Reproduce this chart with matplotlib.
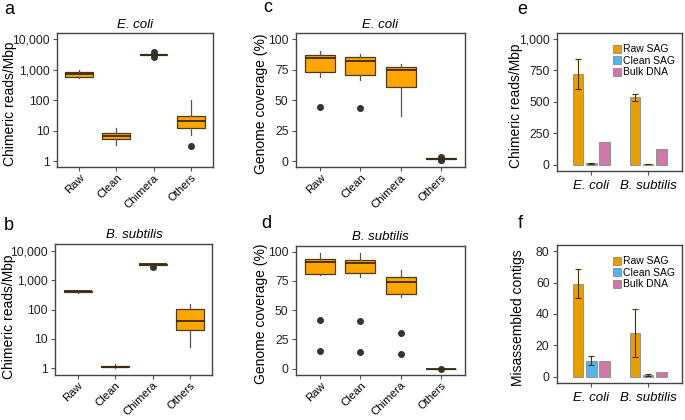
import matplotlib
matplotlib.use("Agg")
import matplotlib.pyplot as plt
from matplotlib.ticker import FixedLocator, FixedFormatter
import numpy as np

plt.rcParams['font.family'] = ['Liberation Sans', 'DejaVu Sans']

# ---------------- data ----------------
box_categories = ["Raw", "Clean", "Chimera", "Others"]

# panel a: E. coli chimeric reads/Mbp (log)
a_whislo = [535, 3.5, 3050, 7.0]
a_q1 = [590, 5.5, 3100, 12.4]
a_med = [720, 6.6, 3150, 20.3]
a_q3 = [860, 8.3, 3200, 29.5]
a_whishi = [980, 12.7, 3250, 100]
a_fliers = [[], [], [3800, 2700], [3.1]]

# panel b: B. subtilis chimeric reads/Mbp (log)
b_whislo = [370, 1.05, 3350, 5.2]
b_q1 = [405, 1.08, 3400, 20.7]
b_med = [415, 1.13, 3450, 41]
b_q3 = [425, 1.18, 3500, 101]
b_whishi = [430, 1.35, 3550, 152]
b_fliers = [[], [], [2830], []]

# panel c: E. coli genome coverage (%)
c_whislo = [68.7, 66.8, 37.0, 1.0]
c_q1 = [72.8, 70.4, 61.1, 1.6]
c_med = [84.8, 82.3, 74.5, 1.9]
c_q3 = [87.2, 85.3, 77.4, 2.3]
c_whishi = [90.0, 87.8, 79.6, 2.8]
c_fliers = [[44.8], [43.5], [], [3.4, 0.6, 1.0]]

# panel d: B. subtilis genome coverage (%)
d_whislo = [79.9, 78.3, 61.1, 0.0]
d_q1 = [80.7, 81.8, 64.1, 0.0]
d_med = [91.3, 90.5, 73.9, 0.0]
d_q3 = [93.75, 92.7, 78.5, 0.0]
d_whishi = [98.9, 98.9, 84.0, 0.0]
d_fliers = [[41.8, 15.0], [40.8, 14.7], [30.7, 12.2], [0.0]]

species = ["E. coli", "B. subtilis"]
bar_series = ["Raw SAG", "Clean SAG", "Bulk DNA"]
bar_colors = ["#E69F00", "#56B4E9", "#CC79A7"]

# panel e: chimeric reads/Mbp (mean, error)
e_raw = [722, 536]
e_raw_err = [123, 29]
e_clean = [10, 3]
e_clean_err = [5, 1]
e_bulk = [179, 128]

# panel f: misassembled contigs
f_raw = [59.3, 27.9]
f_raw_err = [9.3, 15.0]
f_clean = [10.2, 1.3]
f_clean_err = [3.0, 0.7]
f_bulk = [10.2, 3.0]

# ---------------- figure ----------------
fig = plt.figure(figsize=(6.85, 4.2), dpi=100)

ax_a = fig.add_axes([0.083, 0.602, 0.228, 0.319])
ax_b = fig.add_axes([0.081, 0.108, 0.229, 0.312])
ax_c = fig.add_axes([0.432, 0.602, 0.247, 0.319])
ax_d = fig.add_axes([0.432, 0.108, 0.247, 0.307])
ax_e = fig.add_axes([0.813, 0.593, 0.183, 0.329])
ax_f = fig.add_axes([0.813, 0.088, 0.183, 0.329])

LINE = "#333333"
FILL = "#FFA500"
YTICKFS = 8.8
XTICKFS = 8.2
LABFS = 10


def style_axes(ax):
    for s in ax.spines.values():
        s.set_color("#444444")
        s.set_linewidth(1.0)
    ax.tick_params(axis="both", which="both", length=2.8, width=0.8, color="#555555",
                   pad=2.5)
    ax.tick_params(axis="y", labelsize=YTICKFS, colors="#222222", color="#555555")
    ax.tick_params(axis="y", which="minor", length=0)


def draw_box(ax, whislo, q1, med, q3, whishi, fliers):
    stats = []
    for i, name in enumerate(box_categories):
        stats.append(dict(label=name, whislo=whislo[i], q1=q1[i], med=med[i],
                          q3=q3[i], whishi=whishi[i], fliers=fliers[i]))
    ax.bxp(stats, positions=np.arange(1, 5), widths=0.75, patch_artist=True,
           showcaps=False,
           boxprops=dict(facecolor=FILL, edgecolor="#4a3a1a", linewidth=0.9),
           medianprops=dict(color="#3a2a10", linewidth=1.3),
           whiskerprops=dict(color="#555555", linewidth=0.9),
           flierprops=dict(marker="o", markersize=4, markerfacecolor=LINE,
                           markeredgecolor=LINE))
    ax.set_xlim(0.4, 4.6)
    ax.set_xticks(np.arange(1, 5))
    ax.set_xticklabels(box_categories, rotation=45, ha="right",
                       rotation_mode="anchor", fontsize=XTICKFS)
    style_axes(ax)
    ax.tick_params(axis="x", pad=1.0)


def log_axis(ax, lo, hi):
    ax.set_yscale("log")
    ax.set_ylim(lo, hi)
    ax.yaxis.set_major_locator(FixedLocator([1, 10, 100, 1000, 10000]))
    ax.yaxis.set_major_formatter(FixedFormatter(["1", "10", "100", "1,000", "10,000"]))
    ax.yaxis.set_minor_locator(FixedLocator([]))


# a
draw_box(ax_a, a_whislo, a_q1, a_med, a_q3, a_whishi, a_fliers)
log_axis(ax_a, 10 ** -0.196, 10 ** 4.205)
ax_a.set_title("E. coli", fontsize=9.5, style="italic", pad=4)
ax_a.set_ylabel("Chimeric reads/Mbp", fontsize=LABFS)
ax_a.yaxis.set_label_coords(-0.256, 0.47)

# b
draw_box(ax_b, b_whislo, b_q1, b_med, b_q3, b_whishi, b_fliers)
log_axis(ax_b, 10 ** -0.22, 10 ** 4.25)
ax_b.set_title("B. subtilis", fontsize=9.5, style="italic", pad=4)
ax_b.set_ylabel("Chimeric reads/Mbp", fontsize=LABFS)
ax_b.yaxis.set_label_coords(-0.25, 0.44)

# c
draw_box(ax_c, c_whislo, c_q1, c_med, c_q3, c_whishi, c_fliers)
ax_c.set_ylim(-5, 105)
ax_c.set_yticks([0, 25, 50, 75, 100])
ax_c.set_title("E. coli", fontsize=9.5, style="italic", pad=4)
ax_c.set_ylabel("Genome coverage (%)", fontsize=LABFS)
ax_c.yaxis.set_label_coords(-0.165, 0.47)

# d
draw_box(ax_d, d_whislo, d_q1, d_med, d_q3, d_whishi, d_fliers)
ax_d.set_ylim(-5, 105)
ax_d.set_yticks([0, 25, 50, 75, 100])
ax_d.set_title("B. subtilis", fontsize=9.5, style="italic", pad=4)
ax_d.set_ylabel("Genome coverage (%)", fontsize=LABFS)
ax_d.yaxis.set_label_coords(-0.165, 0.47)


def draw_bars(ax, raw, raw_err, clean, clean_err, bulk):
    x = np.arange(1, len(species) + 1)
    offs = [-0.23, 0.0, 0.23]
    w = 0.19
    vals = [raw, clean, bulk]
    errs = [raw_err, clean_err, None]
    for k in range(3):
        ax.bar(x + offs[k], vals[k], width=w, color=bar_colors[k],
               edgecolor="#8a8a8a", linewidth=0.6, label=bar_series[k], zorder=2)
        if errs[k] is not None:
            ax.errorbar(x + offs[k], vals[k], yerr=errs[k], fmt="none",
                        ecolor="#4a3000", elinewidth=0.8, capsize=2,
                        capthick=0.8, zorder=3)
    ax.set_xlim(0.4, 2.6)
    ax.set_xticks(x)
    ax.set_xticklabels(species, fontsize=9.5, style="italic")
    style_axes(ax)
    ax.tick_params(axis="x", pad=4)
    ax.legend(loc="upper right", fontsize=7.5, frameon=False,
              handlelength=0.8, handleheight=0.8, handletextpad=0.2,
              labelspacing=0.15, borderaxespad=0.3,
              bbox_to_anchor=(1.0, 0.97))


# e
draw_bars(ax_e, e_raw, e_raw_err, e_clean, e_clean_err, e_bulk)
ax_e.set_ylim(-50, 1050)
ax_e.set_yticks([0, 250, 500, 750, 1000])
ax_e.set_yticklabels(["0", "250", "500", "750", "1,000"])
ax_e.set_ylabel("Chimeric reads/Mbp", fontsize=LABFS)
ax_e.yaxis.set_label_coords(-0.27, 0.47)

# f
draw_bars(ax_f, f_raw, f_raw_err, f_clean, f_clean_err, f_bulk)
ax_f.set_ylim(-4, 84)
ax_f.set_yticks([0, 20, 40, 60, 80])
ax_f.set_ylabel("Misassembled contigs", fontsize=LABFS)
ax_f.yaxis.set_label_coords(-0.256, 0.47)

# panel letters
letters = [("a", 4, 10), ("b", 4, 226), ("c", 263, 8), ("d", 261, 224),
           ("e", 517, 10), ("f", 518, 224)]
for t, px, py in letters:
    fig.text(px / 685, 1 - py / 420, t, fontsize=13, ha="left", va="center")

fig.savefig("out.png", dpi=100)
